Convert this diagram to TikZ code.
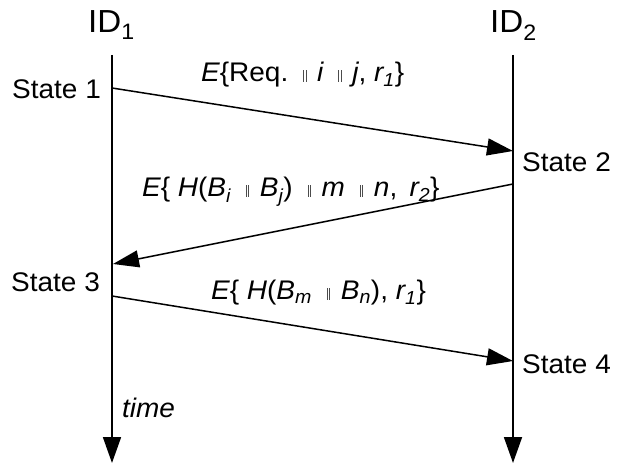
\documentclass[tikz,border=0pt]{standalone}
\usepackage{fontspec}
\setmainfont[FakeStretch=1.04]{Liberation Sans}
\usetikzlibrary{arrows.meta}
\newcommand{\dbar}{\hspace{0.55em}\textcolor{black!70}{\rule{0.8pt}{0.44em}\kern1.8pt\rule{0.8pt}{0.44em}}\hspace{0.4em}}
\newcommand{\iv}[1]{{\itshape #1}}
\begin{document}
\begin{tikzpicture}[x=1bp,y=-1bp,
  lifeline/.style={line width=1.8bp,-{Triangle[length=26bp,width=18bp]}},
  msg/.style={line width=1.5bp,-{Triangle[length=26bp,width=17bp]}},
  txt/.style={inner sep=0pt,anchor=base west,font=\fontsize{27}{31}\selectfont},
  idtxt/.style={inner sep=0pt,anchor=base west,font=\fontsize{32}{36}\selectfont}]
\useasboundingbox (0,0) rectangle (634,465);
% lifelines
\coordinate (a0) at (112,55);
\coordinate (a1) at (112,463);
\coordinate (b0) at (513,55);
\coordinate (b1) at (513,463);
\draw[lifeline] (a0) -- (a1);
\draw[lifeline] (b0) -- (b1);
% headers
\node[idtxt] (id1) at (88,33) {ID\textsubscript{1}};
\node[idtxt] (id2) at (490,33) {ID\textsubscript{2}};
% states
\node[txt] (s1) at (12,99) {State 1};
\node[txt] (s2) at (522,172) {State 2};
\node[txt] (s3) at (11,292) {State 3};
\node[txt] (s4) at (522,373) {State 4};
% messages
\coordinate (m1s) at (112,88);
\coordinate (m1e) at (513,151);
\coordinate (m2s) at (513,184);
\coordinate (m2e) at (113,264);
\coordinate (m3s) at (112,296);
\coordinate (m3e) at (513,361);
\draw[msg] (m1s) -- (m1e);
\draw[msg] (m2s) -- (m2e);
\draw[msg] (m3s) -- (m3e);
% labels
\node[txt] (l1) at (201,82) {\iv{E}\{Req.\dbar\iv{i}\dbar\iv{j}, \iv{r\textsubscript{1}}\}};
\node[txt] (l2) at (142,197) {\iv{E}\{ \iv{H}(\iv{B\textsubscript{i}}\dbar\iv{B\textsubscript{j}})\dbar\iv{m}\dbar\iv{n}, \,\iv{r\textsubscript{2}}\}};
\node[txt] (l3) at (211,300) {\iv{E}\{ \iv{H}(\iv{B\textsubscript{m}}\dbar\iv{B\textsubscript{n}}), \iv{r\textsubscript{1}}\}};
\node[txt] (t) at (122,417) {\iv{time}};
\end{tikzpicture}
\end{document}
